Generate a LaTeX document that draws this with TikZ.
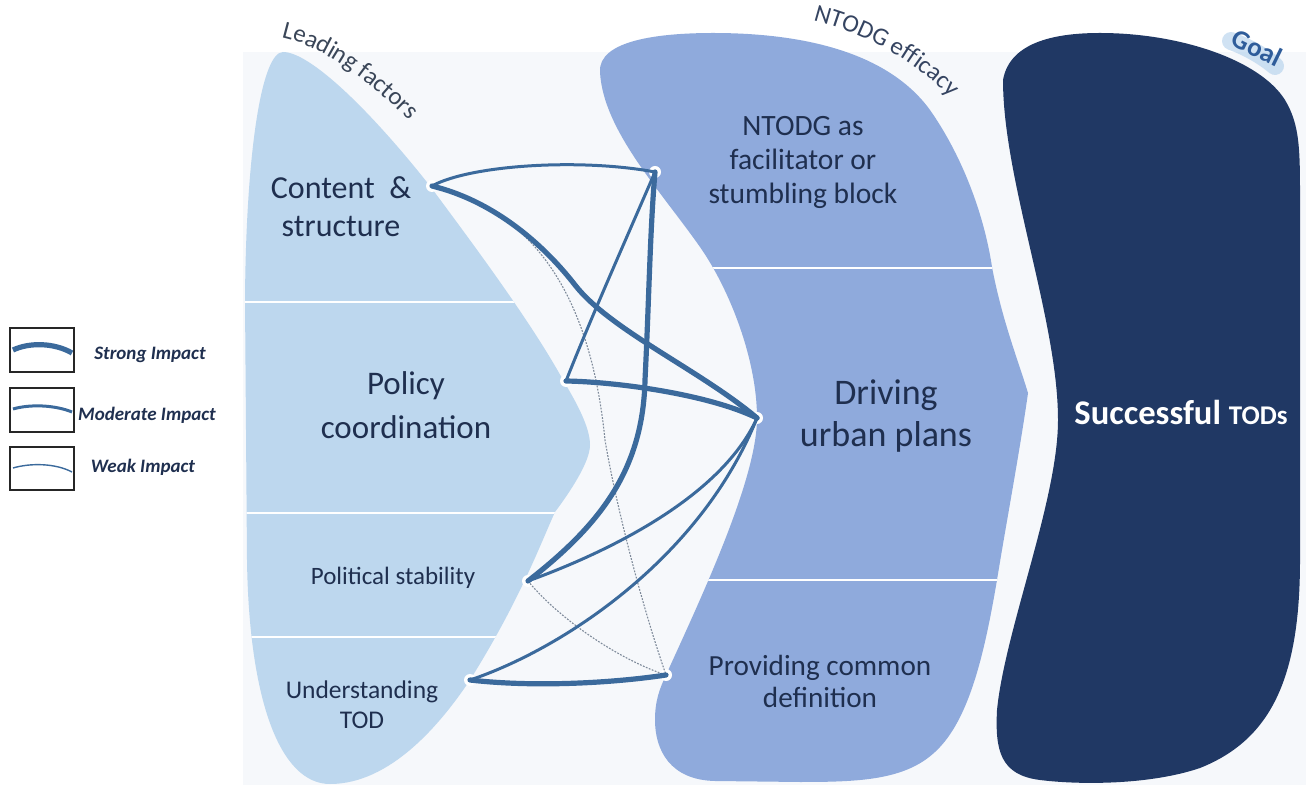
\documentclass[tikz,border=0pt]{standalone}
\usepackage{fontspec}
\setmainfont{Carlito}
\usetikzlibrary{decorations.text}

\definecolor{bgtint}{HTML}{F6F8FB}
\definecolor{factorfill}{HTML}{BDD7EE}
\definecolor{efficacyfill}{HTML}{8FAADC}
\definecolor{goalfill}{HTML}{203864}
\definecolor{linkblue}{HTML}{3B6A9C}
\definecolor{weakgray}{HTML}{7E8A9A}
\definecolor{textnavy}{HTML}{1F2F4F}
\definecolor{headgray}{HTML}{3A4658}
\definecolor{goalblue}{HTML}{2E5C9A}
\definecolor{goalglow}{HTML}{A9CBEA}

\tikzset{
  linkstrong/.style={draw=linkblue, line width=2.6pt, line cap=round},
  linkmod/.style={draw=linkblue, line width=1.5pt, line cap=round},
  linkweak/.style={draw=weakgray, line width=0.55pt, dash pattern=on 0.9pt off 0.7pt},
  hub/.style={circle, fill=white, inner sep=0pt, minimum size=6pt},
  lbl/.style={text=textnavy, align=center, inner sep=0pt},
  divider/.style={draw=white, line width=1pt},
  keybox/.style={draw=black!85, line width=0.8pt, fill=white, inner sep=0pt},
  keytext/.style={text=textnavy, font=\fontsize{9.5pt}{11pt}\selectfont\bfseries\itshape, inner sep=0pt},
}

% column outlines (x to the right, y downward)
\newcommand\factoroutline{(283,52) .. controls (310,52) and (370,110) .. (430,186)
  .. controls (470,240) and (530,320) .. (563,380)
  .. controls (578,405) and (590,428) .. (590,445)
  .. controls (590,462) and (570,492) .. (555,512)
  .. controls (540,545) and (520,600) .. (470,680)
  .. controls (440,725) and (390,784) .. (330,784)
  .. controls (280,784) and (249,700) .. (247,560)
  -- (245,300)
  .. controls (246,150) and (262,52) .. (283,52) -- cycle}
\newcommand\efficacyoutline{(600,72) .. controls (598,40) and (660,33) .. (713,33)
  .. controls (810,33) and (890,55) .. (930,110)
  .. controls (965,160) and (985,220) .. (992,267)
  .. controls (1002,320) and (1018,360) .. (1028,393)
  .. controls (1020,450) and (1005,530) .. (997,580)
  .. controls (985,650) and (970,720) .. (935,752)
  .. controls (905,780) and (860,782) .. (800,782)
  -- (715,781)
  .. controls (670,780) and (655,750) .. (655,720)
  .. controls (655,700) and (660,688) .. (666,675)
  .. controls (700,600) and (757,480) .. (757,418)
  .. controls (757,360) and (730,290) .. (700,247)
  .. controls (660,190) and (603,130) .. (600,72) -- cycle}
\newcommand\goaloutline{(1003,80) .. controls (1010,40) and (1060,33) .. (1100,33)
  .. controls (1180,33) and (1260,60) .. (1285,100)
  .. controls (1300,125) and (1300,150) .. (1300,200)
  -- (1300,560)
  .. controls (1300,680) and (1270,740) .. (1200,768)
  .. controls (1150,785) and (1080,785) .. (1040,780)
  .. controls (1000,775) and (995,750) .. (997,710)
  .. controls (1005,630) and (1058,500) .. (1058,420)
  .. controls (1058,320) and (1003,180) .. (1003,80) -- cycle}

\begin{document}
\begin{tikzpicture}[x=0.5pt,y=-0.5pt]
\useasboundingbox (0,0) rectangle (1306,785);
\fill[bgtint] (243,52) rectangle (1306,785);

% the three columns
\fill[factorfill] \factoroutline;
\fill[efficacyfill] \efficacyoutline;
\fill[goalfill] \goaloutline;

% white dividers between the rows
\begin{scope}
  \clip \factoroutline;
  \draw[divider] (240,302) -- (600,302);
  \draw[divider] (240,513) -- (600,513);
  \draw[divider] (240,637) -- (600,637);
\end{scope}
\begin{scope}
  \clip \efficacyoutline;
  \draw[divider] (650,268) -- (1030,268);
  \draw[divider] (650,580) -- (1030,580);
\end{scope}

% column headings along the outlines
\path[decorate, decoration={text along path, text align=center,
  text color=headgray, text={|\fontsize{12.5pt}{15pt}\selectfont|Leading factors}}]
  (280,37) .. controls (320,45) and (370,80) .. (410,122);
\path[decorate, decoration={text along path, text align=center,
  text color=textnavy!90, text={|\fontsize{12.5pt}{15pt}\selectfont|NTODG efficacy}}]
  (798,17) .. controls (850,27) and (920,58) .. (960,110);
% soft glow behind the goal heading
\draw[goalglow, opacity=0.55, line width=9pt, line cap=round]
  (1231,41) .. controls (1245,46) and (1262,55) .. (1275,66);
\node[anchor=base, inner sep=0pt, text=goalblue, rotate=-26,
  font=\fontsize{13.5pt}{16pt}\selectfont\bfseries] (goalword) at (1253,56) {Goal};

% row labels
\node[lbl, font=\fontsize{16pt}{19pt}\selectfont] (content) at (341,207) {Content\ \ \&\\structure};
\node[lbl, font=\fontsize{16.5pt}{22pt}\selectfont] (policy) at (406,405) {Policy\\coordination};
\node[lbl, font=\fontsize{12.5pt}{15pt}\selectfont] (political) at (393,578) {Political stability};
\node[lbl, font=\fontsize{12.75pt}{15pt}\selectfont] (understanding) at (362,705) {Understanding\\TOD};
\node[lbl, font=\fontsize{14.75pt}{17pt}\selectfont] (facilitator) at (803,162) {NTODG as\\facilitator or\\stumbling block};
\node[lbl, font=\fontsize{18pt}{21pt}\selectfont] (driving) at (886,416) {Driving\\urban plans};
\node[lbl, font=\fontsize{14.6pt}{16pt}\selectfont] (common) at (820,681) {Providing common\\definition};
\node[text=white, font=\bfseries, inner sep=0pt] (success) at (1181,412)
  {\fontsize{17.3pt}{20pt}\selectfont Successful \fontsize{13.5pt}{16pt}\selectfont TODs};

% connection points
\node[hub] (A) at (432,186) {};
\node[hub] (B) at (566,381) {};
\node[hub] (C) at (528,581) {};
\node[hub] (D) at (470,680) {};
\node[hub] (E) at (655,172) {};
\node[hub] (F) at (757,418) {};
\node[hub] (G) at (666,675) {};

% weak links
\draw[linkweak] (A.center) .. controls (530,210) and (590,290) .. (605,440)
  .. controls (615,500) and (640,600) .. (G.center);
\draw[linkweak] (C.center) .. controls (560,620) and (620,660) .. (G.center);

% moderate links
\draw[linkmod] (A.center) .. controls (470,165) and (580,158) .. (E.center);
\draw[linkmod] (B.center) .. controls (590,320) and (630,230) .. (E.center);
\draw[linkmod] (C.center) .. controls (600,555) and (720,500) .. (F.center);
\draw[linkmod] (D.center) .. controls (560,650) and (700,560) .. (F.center);

% strong links
\draw[linkstrong] (A.center) .. controls (490,200) and (540,240) .. (575,285)
  .. controls (610,330) and (700,370) .. (F.center);
\draw[linkstrong] (B.center) .. controls (620,382) and (710,395) .. (F.center);
\draw[linkstrong] (C.center) .. controls (600,525) and (643,470) .. (645,380)
  .. controls (649,300) and (650,230) .. (E.center);
\draw[linkstrong] (D.center) .. controls (540,688) and (620,682) .. (G.center);

% legend
\node[keybox, minimum width=32pt, minimum height=22pt] (keystrong) at (42,350) {};
\node[keybox, minimum width=32pt, minimum height=22pt] (keymod) at (42,410) {};
\node[keybox, minimum width=32pt, minimum height=21.5pt] (keyweak) at (42,468.5) {};
\draw[linkstrong, line cap=butt] (13,350) .. controls (30,342) and (55,343) .. (72,353);
\draw[linkmod, line cap=butt] (13,409) .. controls (30,404) and (55,405) .. (72,412);
\draw[draw=linkblue, line width=0.7pt] (13,468) .. controls (30,463) and (55,463) .. (72,472);
\node[keytext] (strongtext) at (150,355) {Strong Impact};
\node[keytext] (modtext) at (147,415) {Moderate Impact};
\node[keytext] (weaktext) at (143,467) {Weak Impact};
\end{tikzpicture}
\end{document}
